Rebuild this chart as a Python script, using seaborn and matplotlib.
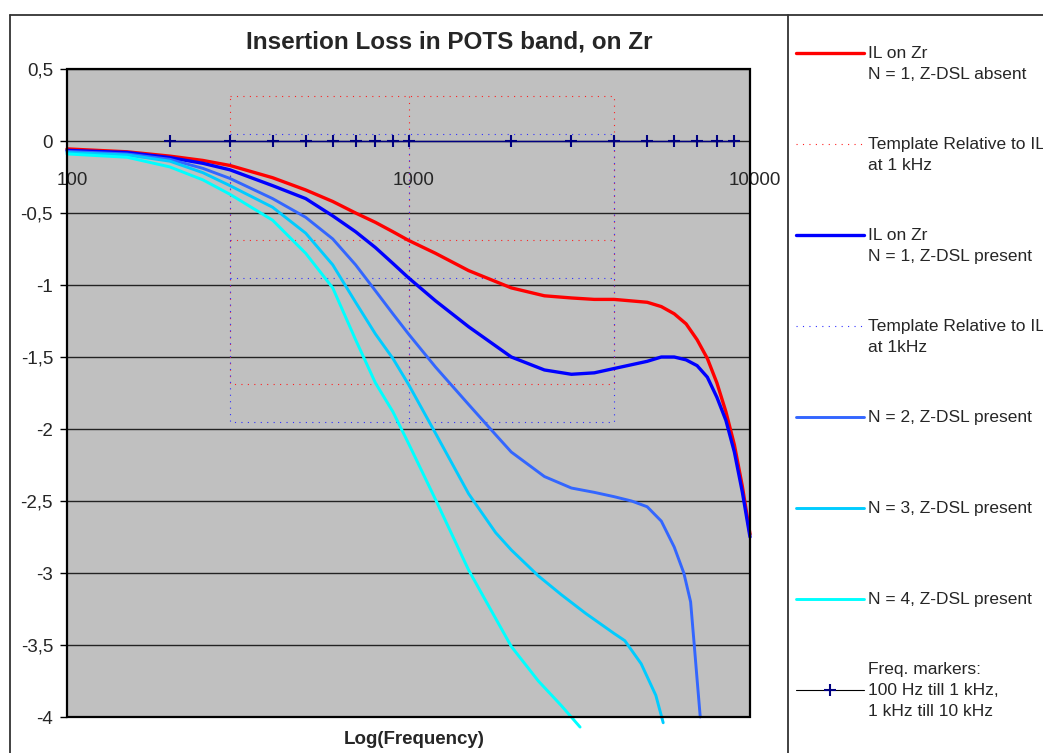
import numpy as np
import pandas as pd
import matplotlib
matplotlib.use("Agg")
import matplotlib.pyplot as plt
import seaborn as sns
from matplotlib.lines import Line2D
from matplotlib.patches import Rectangle
from matplotlib.ticker import FuncFormatter, FixedLocator, FixedFormatter, NullLocator
from matplotlib.transforms import ScaledTranslation

# --- values (IL in dB) ---
red_freq = [100, 150, 200, 250, 300, 400, 500, 600, 700, 800, 900, 1000, 1200, 1500,
            2000, 2500, 3000, 3500, 4000, 5000, 5500, 6000, 6500, 7000, 7500, 8000,
            8500, 9000, 9500, 10000]
red_il = [-0.055, -0.075, -0.105, -0.135, -0.17, -0.255, -0.34, -0.42, -0.50, -0.565,
          -0.63, -0.69, -0.78, -0.90, -1.02, -1.075, -1.09, -1.10, -1.10, -1.12, -1.15,
          -1.20, -1.27, -1.38, -1.51, -1.68, -1.88, -2.11, -2.40, -2.73]

blue_freq = red_freq
blue_il = [-0.065, -0.08, -0.115, -0.155, -0.20, -0.31, -0.40, -0.52, -0.63, -0.74,
           -0.85, -0.95, -1.11, -1.29, -1.50, -1.59, -1.62, -1.61, -1.58, -1.53, -1.50,
           -1.50, -1.52, -1.56, -1.64, -1.78, -1.94, -2.16, -2.44, -2.75]

n2_freq = [100, 150, 200, 250, 300, 400, 500, 600, 700, 800, 900, 1000, 1200, 1500,
           1800, 2000, 2500, 3000, 3500, 4000, 4500, 5000, 5500, 6000, 6400, 6700,
           6850, 7000, 7150]
n2_il = [-0.072, -0.09, -0.127, -0.19, -0.26, -0.40, -0.53, -0.68, -0.86, -1.04, -1.20,
         -1.34, -1.57, -1.83, -2.04, -2.16, -2.33, -2.41, -2.44, -2.47, -2.50, -2.54,
         -2.64, -2.82, -3.00, -3.20, -3.47, -3.74, -4.00]

n3_freq = [100, 150, 200, 250, 300, 400, 500, 600, 700, 800, 900, 1000, 1200, 1500,
           1800, 2000, 2400, 2800, 3300, 4000, 4300, 4800, 5300, 5570]
n3_il = [-0.08, -0.097, -0.14, -0.22, -0.31, -0.46, -0.64, -0.86, -1.12, -1.34, -1.51,
         -1.69, -2.03, -2.45, -2.72, -2.84, -3.02, -3.15, -3.28, -3.42, -3.47, -3.63,
         -3.85, -4.04]

n4_freq = [100, 150, 200, 250, 300, 400, 500, 600, 700, 800, 900, 1000, 1200, 1500,
           2000, 2400, 2800, 3180]
n4_il = [-0.09, -0.113, -0.18, -0.27, -0.37, -0.55, -0.78, -1.02, -1.38, -1.68, -1.88,
         -2.10, -2.49, -2.98, -3.51, -3.75, -3.92, -4.07]

# template box relative to IL at 1 kHz: +1 dB / 0 / -1 dB between 300 Hz and 4 kHz
tpl_freq = [300, 4000, 4000, 300, 300, np.nan, 300, 4000, np.nan, 1000, 1000]
tpl_offset = [1, 1, -1, -1, 1, np.nan, 0, 0, np.nan, 1, -1]

marker_freq = [200, 300, 400, 500, 600, 700, 800, 900, 1000,
               2000, 3000, 4000, 5000, 6000, 7000, 8000, 9000]
marker_il = [0] * len(marker_freq)

series_names = ["IL N=1 absent", "IL N=1 present", "N=2", "N=3", "N=4"]
y_ticks = [0.5, 0, -0.5, -1, -1.5, -2, -2.5, -3, -3.5, -4]
x_ticks = [100, 1000, 10000]
x_tick_labels = ["100", "1000", "10000"]

legend_labels = [
    "IL on Zr\nN = 1, Z-DSL absent",
    "Template Relative to IL\nat 1 kHz",
    "IL on Zr\nN = 1, Z-DSL present",
    "Template Relative to IL\nat 1kHz",
    "N = 2, Z-DSL present",
    "N = 3, Z-DSL present",
    "N = 4, Z-DSL present",
    "Freq. markers:\n100 Hz till 1 kHz,\n1 kHz till 10 kHz",
]

colors = {"IL N=1 absent": "#FF0000", "IL N=1 present": "#0000FF",
          "N=2": "#3366FF", "N=3": "#00CCFF", "N=4": "#00FFFF"}
widths = {"IL N=1 absent": 2.4, "IL N=1 present": 2.4, "N=2": 2.1, "N=3": 2.1, "N=4": 2.1}

sns.set_style("white")
plt.rcParams["font.family"] = ["Liberation Sans", "DejaVu Sans"]

W, H = 1043, 753
fig = plt.figure(figsize=(W / 100, H / 100), dpi=100)
ax = fig.add_axes([67 / W, (H - 717) / H, (750 - 67) / W, (717 - 69) / H])
ax.set_facecolor("#C0C0C0")
ax.set_xscale("log")

frames = []
for name, f, v in zip(series_names, [red_freq, blue_freq, n2_freq, n3_freq, n4_freq],
                      [red_il, blue_il, n2_il, n3_il, n4_il]):
    frames.append(pd.DataFrame({"freq_hz": f, "il_db": v, "series": name}))
df = pd.concat(frames, ignore_index=True)

tpl_ref_red = np.interp(1000, red_freq, red_il)
tpl_ref_blue = np.interp(1000, blue_freq, blue_il)
tpl_style = dict(lw=0.8, linestyle=(0, (1, 4.8)), zorder=2)

for name in series_names:
    sub = df[df["series"] == name]
    sns.lineplot(data=sub, x="freq_hz", y="il_db", color=colors[name],
                 linewidth=widths[name], estimator=None, sort=False, legend=False,
                 ax=ax, zorder=3, clip_on=False)
    if name == "IL N=1 absent":
        ax.plot(tpl_freq, np.array(tpl_offset) + tpl_ref_red, color="#FF2020", **tpl_style)
    if name == "IL N=1 present":
        ax.plot(tpl_freq, np.array(tpl_offset) + tpl_ref_blue, color="#3030FF", **tpl_style)

ax.plot(marker_freq, marker_il, color="#000080", marker="+", ms=8, mew=1.5, lw=1,
        zorder=4)

ax.set_xlim(100, 10000)
ax.set_ylim(-4, 0.5)
ax.set_xlabel("")
ax.set_ylabel("")

ax.yaxis.set_major_locator(FixedLocator(y_ticks))
ax.yaxis.set_major_formatter(FuncFormatter(lambda v, p: f"{v:g}".replace(".", ",")))
ax.xaxis.set_major_locator(FixedLocator(x_ticks))
ax.xaxis.set_major_formatter(FixedFormatter(x_tick_labels))
ax.xaxis.set_minor_locator(NullLocator())

for s in ax.spines.values():
    s.set_visible(False)
ax.spines["bottom"].set_position(("data", 0))
ax.add_patch(Rectangle((0, 0), 1, 1, transform=ax.transAxes, fill=False,
                       ec="black", lw=1.6, clip_on=False, zorder=5))

ax.yaxis.grid(True, color="#222222", lw=1.0)
ax.xaxis.grid(False)
ax.set_axisbelow(True)
ax.tick_params(axis="y", left=True, length=5, width=1, color="black", pad=5,
               labelsize=13.5)
ax.tick_params(axis="x", bottom=True, length=0, pad=22, labelsize=13.5)
for lab in ax.get_xticklabels():
    lab.set_transform(lab.get_transform() + ScaledTranslation(0.05, 0, fig.dpi_scale_trans))

fig.text(449 / W, 1 - 42 / H, "Insertion Loss in POTS band, on Zr", ha="center",
         va="center", fontsize=17.5, fontweight="bold")
fig.text(414 / W, 1 - 740 / H, "Log(Frequency)", ha="center", va="center",
         fontsize=13.5, fontweight="bold")

# chart border and legend separator
fig.add_artist(Line2D([10 / W, 10 / W], [0, 1 - 15 / H], color="#333333", lw=1.3))
fig.add_artist(Line2D([10 / W, 1], [1 - 15 / H, 1 - 15 / H], color="#333333", lw=1.3))
fig.add_artist(Line2D([788 / W, 788 / W], [0, 1 - 15 / H], color="#333333", lw=1.3))

# legend panel
lax = fig.add_axes([788 / W, 0, (W - 788) / W, 1])
lax.set_xlim(0, W - 788)
lax.set_ylim(H, 0)
lax.axis("off")
handle_styles = [
    dict(color="#FF0000", lw=2.4),
    dict(color="#FF2020", lw=0.8, linestyle=(0, (1, 4.8))),
    dict(color="#0000FF", lw=2.4),
    dict(color="#3030FF", lw=0.8, linestyle=(0, (1, 4.8))),
    dict(color="#3366FF", lw=2.1),
    dict(color="#00CCFF", lw=2.1),
    dict(color="#00FFFF", lw=2.1),
    dict(color="black", lw=0.8),
]
for i, (label, st) in enumerate(zip(legend_labels, handle_styles)):
    y = 53 + 91.0 * i
    text_y = y - 21 if i == len(legend_labels) - 1 else y
    lax.plot([8, 76], [y, y], **st)
    if i == len(legend_labels) - 1:
        lax.plot([42], [y], marker="+", ms=8, mew=1.5, color="#000080")
    lax.text(80, text_y - 7, label, ha="left", va="top", fontsize=12.5,
             linespacing=1.48)

fig.savefig("out.png", dpi=100)
